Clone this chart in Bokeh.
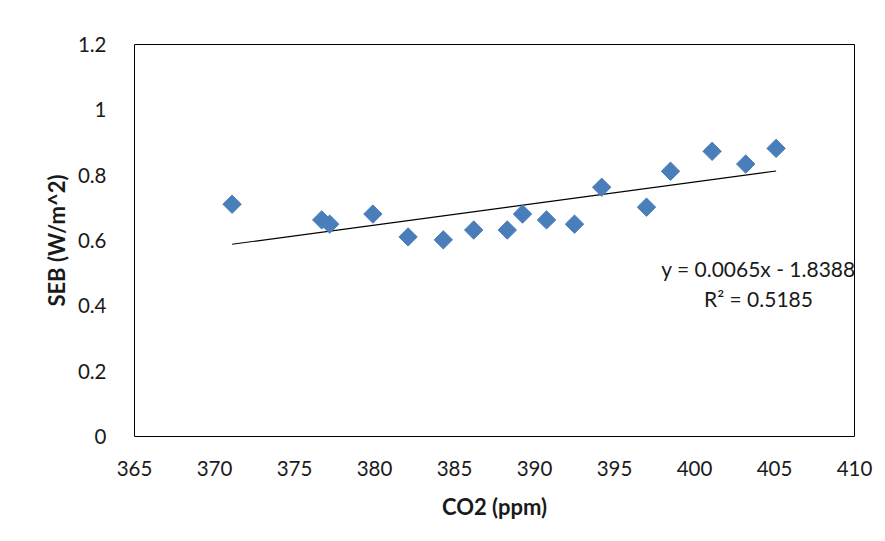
import numpy as np
from bokeh.plotting import figure
from bokeh.models import FixedTicker, CustomJSTickFormatter, Label, ColumnDataSource
from bokeh.embed import file_html
from bokeh.resources import INLINE

# Data
co2 = [371.1, 376.7, 377.2, 379.9, 382.1, 384.3, 386.2, 388.3, 389.25,
       390.75, 392.5, 394.2, 397.0, 398.5, 401.1, 403.2, 405.1]
seb = [0.711, 0.663, 0.650, 0.681, 0.611, 0.602, 0.632, 0.632, 0.681,
       0.663, 0.650, 0.763, 0.702, 0.812, 0.873, 0.834, 0.882]
x_ticks = [365, 370, 375, 380, 385, 390, 395, 400, 405, 410]
y_ticks = [0, 0.2, 0.4, 0.6, 0.8, 1, 1.2]
eq_text = "y = 0.0065x - 1.8388"
r2_text = "R\u00b2 = 0.5185"

FONT = "Lato"
TXT = "#1a1a1a"

p = figure(width=877, height=533, output_backend="svg", toolbar_location=None,
           x_range=(365, 410), y_range=(0, 1.2),
           min_border_left=134, min_border_right=23, min_border_top=44, min_border_bottom=97)
p.grid.visible = False
p.outline_line_color = "black"
p.outline_line_width = 1
p.background_fill_color = "white"
p.border_fill_color = "white"

# trend line (least squares on the data)
slope, intercept = np.polyfit(co2, seb, 1)
xl = [min(co2), max(co2)]
yl = [slope * v + intercept for v in xl]
p.line(xl, yl, line_color="black", line_width=1.2)

src = ColumnDataSource(dict(x=co2, y=seb))
p.scatter("x", "y", source=src, marker="square", size=13, angle=np.pi / 4,
          fill_color="#4A7EBB", line_color="#4A7EBB")

for ax in (p.xaxis[0], p.yaxis[0]):
    ax.axis_line_color = None
    ax.major_tick_line_color = None
    ax.minor_tick_line_color = None
    ax.major_label_text_font = FONT
    ax.major_label_text_font_size = "20.5px"
    ax.major_label_text_color = TXT
    ax.axis_label_text_font = FONT
    ax.axis_label_text_font_size = "22px"
    ax.axis_label_text_font_style = "bold"
    ax.axis_label_text_color = TXT

p.xaxis.ticker = FixedTicker(ticks=x_ticks)
p.yaxis.ticker = FixedTicker(ticks=y_ticks)
p.yaxis.formatter = CustomJSTickFormatter(code="return String(Math.round(tick*10)/10);")
p.xaxis.axis_label = "CO2 (ppm)"
p.yaxis.axis_label = "SEB (W/m^2)"
p.xaxis.major_label_standoff = 18
p.xaxis.axis_label_standoff = 14
p.yaxis.major_label_standoff = 22
p.yaxis.axis_label_standoff = 5

p.add_layout(Label(x=404.0, y=0.513, text=eq_text, text_align="center", text_baseline="middle",
                   text_font=FONT, text_font_size="21px", text_color=TXT))
p.add_layout(Label(x=404.0, y=0.421, text=r2_text, text_align="center", text_baseline="middle",
                   text_font=FONT, text_font_size="21px", text_color=TXT))

open("out.html", "w").write(file_html(p, INLINE))
